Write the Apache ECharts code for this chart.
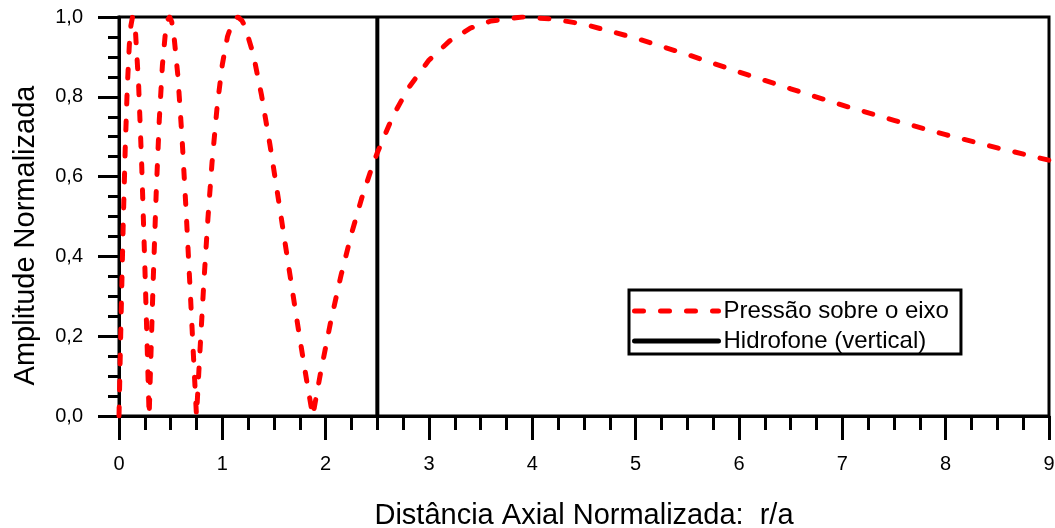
<!DOCTYPE html>
<html>
<head>
<meta charset="utf-8">
<script src="https://cdn.jsdelivr.net/npm/echarts@6/dist/echarts.min.js"></script>
<style>
html,body{margin:0;padding:0;background:#fff;}
#chart{width:1055px;height:528px;}
</style>
</head>
<body>
<div id="chart"></div>
<script>
// Distância axial normalizada r/a
const distancia = [0, 0.01, 0.02, 0.04, 0.06, 0.08, 0.10, 0.115, 0.13, 0.145, 0.16, 0.19, 0.22, 0.25, 0.27, 0.2917, 0.30, 0.33, 0.36, 0.39, 0.42, 0.45, 0.47, 0.49, 0.51, 0.53, 0.57, 0.61, 0.65, 0.69, 0.72, 0.75, 0.78, 0.82, 0.86, 0.90, 0.95, 1.00, 1.05, 1.10, 1.15, 1.19, 1.22, 1.30, 1.38, 1.46, 1.54, 1.62, 1.70, 1.74, 1.78, 1.82, 1.875, 1.95, 2.05, 2.15, 2.25, 2.35, 2.45, 2.5, 2.65, 2.8, 3.0, 3.2, 3.4, 3.6, 3.9, 4.2, 4.5, 5.0, 5.5, 6.0, 6.5, 7.0, 7.5, 8.0, 8.5, 9.0];
// Amplitude normalizada da pressão sobre o eixo
const pressao = [0, 0.125, 0.246, 0.473, 0.668, 0.822, 0.930, 0.978, 0.999, 0.993, 0.961, 0.829, 0.627, 0.377, 0.198, 0, 0.075, 0.332, 0.559, 0.743, 0.879, 0.963, 0.992, 1.000, 0.988, 0.958, 0.852, 0.697, 0.511, 0.309, 0.153, 0, 0.147, 0.330, 0.493, 0.634, 0.776, 0.881, 0.951, 0.989, 1.000, 0.991, 0.976, 0.906, 0.803, 0.681, 0.548, 0.412, 0.277, 0.211, 0.146, 0.083, 0, 0.107, 0.238, 0.354, 0.457, 0.547, 0.625, 0.660, 0.751, 0.822, 0.892, 0.940, 0.972, 0.990, 1.000, 0.995, 0.982, 0.947, 0.906, 0.862, 0.820, 0.779, 0.741, 0.705, 0.672, 0.641];
// Hidrofone (linha vertical)
const hidrofoneX = [2.5, 2.5];
const hidrofoneY = [0, 1];

const seriesNames = ['Pressão sobre o eixo', 'Hidrofone (vertical)'];
const xAxisName = 'Distância Axial Normalizada:  r/a';
const yAxisName = 'Amplitude Normalizada';

const FONT = "'Liberation Sans', Arial, sans-serif";
const RED = '#ff0000';
const DASH = [9, 17];

const chart = echarts.init(document.getElementById('chart'), null, {renderer: 'canvas'});
chart.setOption({
  animation: false,
  backgroundColor: '#fff',
  textStyle: {fontFamily: FONT, color: '#000'},
  grid: {left: 119, right: 6, top: 17, bottom: 112, containLabel: false, outerBoundsMode: 'none',
         show: true, borderColor: '#000', borderWidth: 3, backgroundColor: 'transparent'},
  legend: {
    data: [
      {name: seriesNames[0], lineStyle: {color: RED, width: 5, type: DASH, cap: 'round'}},
      {name: seriesNames[1], lineStyle: {color: '#000', width: 5, type: 'solid', cap: 'round'}}
    ],
    orient: 'vertical',
    left: 629, top: 290,
    itemWidth: 84, itemHeight: 14, itemGap: 6,
    padding: [9, 12, 1, 3],
    borderColor: '#000', borderWidth: 3,
    itemStyle: {opacity: 0},
    textStyle: {fontSize: 24, color: '#000', fontFamily: FONT},
    selectedMode: false
  },
  xAxis: {
    type: 'value', min: 0, max: 9, interval: 1,
    name: xAxisName, nameLocation: 'middle', nameGap: 85,
    nameTextStyle: {fontSize: 29, color: '#000', fontFamily: FONT},
    axisLine: {show: true, onZero: false, lineStyle: {color: '#000', width: 3}},
    axisTick: {show: true, inside: false, length: 24, lineStyle: {color: '#000', width: 3}},
    minorTick: {show: true, splitNumber: 4, length: 14, lineStyle: {color: '#000', width: 3}},
    axisLabel: {fontSize: 20, color: '#000', margin: 38, fontFamily: FONT},
    splitLine: {show: false}
  },
  yAxis: {
    type: 'value', min: 0, max: 1, interval: 0.2,
    name: yAxisName, nameLocation: 'middle', nameGap: 79,
    nameTextStyle: {fontSize: 29, color: '#000', fontFamily: FONT, padding: [0, 38, 0, 0]},
    axisLine: {show: true, onZero: false, lineStyle: {color: '#000', width: 3}},
    axisTick: {show: true, inside: false, length: 21, lineStyle: {color: '#000', width: 3}},
    minorTick: {show: true, splitNumber: 4, length: 11, lineStyle: {color: '#000', width: 3}},
    axisLabel: {fontSize: 20, color: '#000', margin: 36, fontFamily: FONT,
      formatter: v => v.toFixed(1).replace('.', ',')},
    splitLine: {show: false}
  },
  series: [
    {
      name: seriesNames[0], type: 'line', z: 4,
      data: distancia.map((x, i) => [x, pressao[i]]),
      showSymbol: false, symbol: 'none', clip: true,
      lineStyle: {color: RED, width: 5, type: DASH, cap: 'round', join: 'round'},
      itemStyle: {color: RED}
    },
    {
      name: seriesNames[1], type: 'line', z: 3,
      data: hidrofoneX.map((x, i) => [x, hidrofoneY[i]]),
      showSymbol: false, symbol: 'none', clip: false,
      lineStyle: {color: '#000', width: 4, type: 'solid'},
      itemStyle: {color: '#000'}
    }
  ]
});
</script>
</body>
</html>
